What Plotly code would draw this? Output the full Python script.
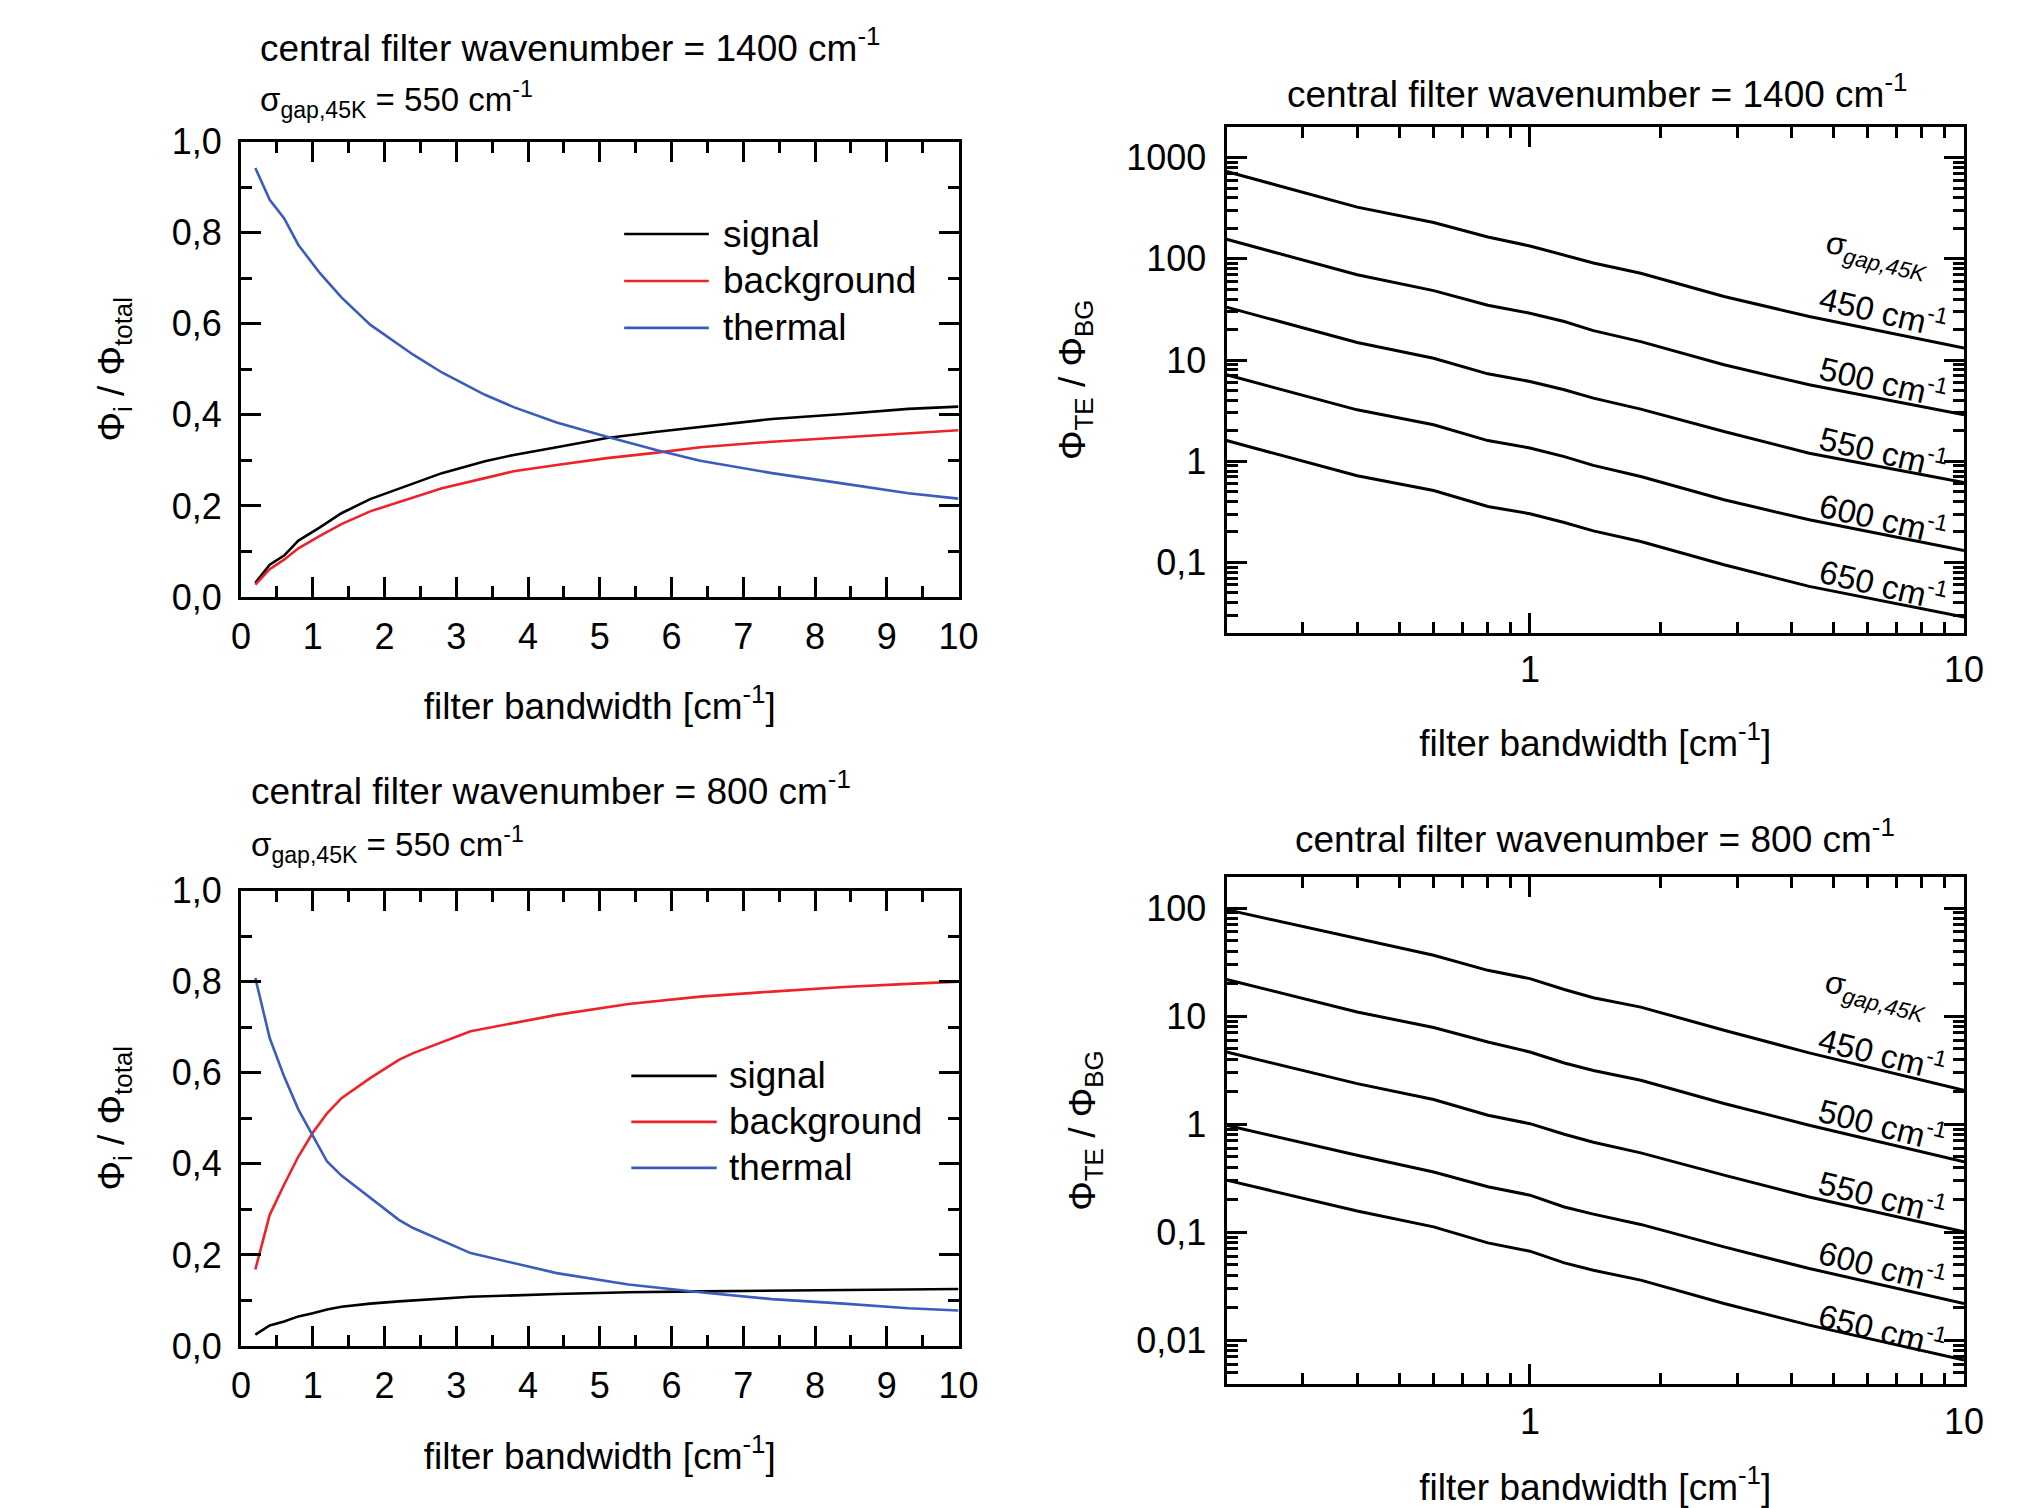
import math
import plotly.graph_objects as go

W, H = 2033, 1508
FONT = "Liberation Sans, Arial, Helvetica, sans-serif"

# ---------------- data ----------------
series_names = ["signal", "background", "thermal"]
series_colors = ["#000000", "#ee2229", "#3a5cbd"]

# top-left: central filter wavenumber 1400 cm-1
bw_1400 = [0.2, 0.4, 0.6, 0.8, 1.1, 1.4, 1.8, 2.4, 2.8, 3.4, 3.8, 4.4, 5.1, 5.8, 6.4, 7.4, 8.4, 9.3, 10]
signal_1400 = [0.031, 0.071, 0.091, 0.124, 0.153, 0.184, 0.215, 0.250, 0.272, 0.298, 0.312, 0.329, 0.349, 0.363, 0.374, 0.391, 0.402, 0.413, 0.418]
background_1400 = [0.027, 0.061, 0.082, 0.107, 0.134, 0.160, 0.188, 0.219, 0.239, 0.261, 0.276, 0.290, 0.305, 0.317, 0.329, 0.341, 0.351, 0.360, 0.366]
thermal_1400 = [0.942, 0.872, 0.832, 0.773, 0.711, 0.658, 0.598, 0.532, 0.493, 0.444, 0.417, 0.383, 0.352, 0.322, 0.299, 0.272, 0.249, 0.228, 0.216]

# bottom-left: central filter wavenumber 800 cm-1
bw_800 = [0.2, 0.4, 0.6, 0.8, 1.0, 1.2, 1.4, 1.8, 2.2, 2.4, 3.2, 4.4, 5.4, 6.4, 7.4, 8.4, 9.3, 10]
signal_800 = [0.025, 0.045, 0.054, 0.065, 0.072, 0.080, 0.086, 0.093, 0.098, 0.100, 0.108, 0.114, 0.118, 0.120, 0.121, 0.123, 0.124, 0.125]
background_800 = [0.168, 0.288, 0.354, 0.416, 0.468, 0.511, 0.544, 0.588, 0.628, 0.643, 0.691, 0.727, 0.751, 0.767, 0.778, 0.788, 0.795, 0.800]
thermal_800 = [0.808, 0.676, 0.592, 0.519, 0.462, 0.405, 0.374, 0.325, 0.277, 0.259, 0.204, 0.160, 0.135, 0.118, 0.103, 0.093, 0.083, 0.078]

# right panels: Phi_TE / Phi_BG versus bandwidth for several gap energies
bw_log = [0.2, 0.4, 0.6, 0.8, 1.0, 1.2, 1.4, 1.8, 2.8, 4.4, 10]
gap_values = [450, 500, 550, 600, 650]

ratio_1400 = {
    450: [728, 324, 228, 164, 134, 109, 91, 72, 42.4, 26.9, 13.1],
    500: [156, 69.5, 48.5, 34.8, 29.0, 24.0, 19.5, 15.2, 8.97, 5.69, 2.88],
    550: [33.3, 14.9, 10.4, 7.3, 6.14, 5.08, 4.2, 3.27, 1.97, 1.20, 0.617],
    600: [7.14, 3.22, 2.29, 1.60, 1.35, 1.11, 0.91, 0.707, 0.416, 0.264, 0.1315],
    650: [1.60, 0.718, 0.514, 0.357, 0.303, 0.248, 0.205, 0.161, 0.0948, 0.058, 0.0289],
}
ratio_800 = {
    450: [96.6, 52.1, 36.5, 26.5, 22.2, 17.6, 14.8, 12.1, 7.4, 4.56, 2.06],
    500: [21.8, 10.9, 7.83, 5.76, 4.65, 3.68, 3.14, 2.55, 1.55, 0.977, 0.447],
    550: [4.65, 2.37, 1.69, 1.21, 1.01, 0.807, 0.68, 0.542, 0.337, 0.212, 0.1007],
    600: [0.977, 0.515, 0.361, 0.263, 0.22, 0.171, 0.147, 0.118, 0.0731, 0.0461, 0.0219],
    650: [0.303, 0.157, 0.112, 0.0796, 0.0667, 0.052, 0.0444, 0.036, 0.0219, 0.0138, 0.00655],
}

# tick labels
lin_x_tickvals = [0, 1, 2, 3, 4, 5, 6, 7, 8, 9, 10]
lin_x_ticktext = ["0", "1", "2", "3", "4", "5", "6", "7", "8", "9", "10"]
lin_y_tickvals = [0.0, 0.2, 0.4, 0.6, 0.8, 1.0]
lin_y_ticktext = ["0,0", "0,2", "0,4", "0,6", "0,8", "1,0"]
log_x_tickvals = [1, 10]
log_x_ticktext = ["1", "10"]
tr_y_tickvals = [0.1, 1, 10, 100, 1000]
tr_y_ticktext = ["0,1", "1", "10", "100", "1000"]
br_y_tickvals = [0.01, 0.1, 1, 10, 100]
br_y_ticktext = ["0,01", "0,1", "1", "10", "100"]

titles_top = ["central filter wavenumber = 1400 cm<sup>-1</sup>",
              "central filter wavenumber = 800 cm<sup>-1</sup>"]
gap_subtitle = "σ<sub>gap,45K</sub> = 550 cm<sup>-1</sup>"
xtitle = "filter bandwidth [cm<sup>-1</sup>]"
ytitle_left = "Φ<sub>i</sub> / Φ<sub>total</sub>"
ytitle_right = "Φ<sub>TE</sub> / Φ<sub>BG</sub>"
NB = "\u00a0"  # trailing padding nudges the rotated titles slightly downward

# ---------------- figure ----------------
fig = go.Figure()

left_sets = [
    ("x", "y", bw_1400, [signal_1400, background_1400, thermal_1400]),
    ("x3", "y3", bw_800, [signal_800, background_800, thermal_800]),
]
for xa, ya, xs, ys in left_sets:
    for name, col, yv in zip(series_names, series_colors, ys):
        fig.add_trace(go.Scatter(x=xs, y=yv, mode="lines", name=name,
                                 line=dict(color=col, width=2.6),
                                 xaxis=xa, yaxis=ya, showlegend=False))

for xa, ya, data in [("x2", "y2", ratio_1400), ("x4", "y4", ratio_800)]:
    for g in gap_values:
        fig.add_trace(go.Scatter(x=bw_log, y=data[g], mode="lines",
                                 name=f"{g} cm-1",
                                 line=dict(color="black", width=3),
                                 xaxis=xa, yaxis=ya, showlegend=False))


def px_x(p):
    return p / W


def px_y(p):
    return 1 - p / H


TICKFONT = dict(family=FONT, size=36, color="black")
TITLEFONT = dict(family=FONT, size=37, color="black")


def base_axis(**kw):
    d = dict(showline=True, linecolor="black", linewidth=3, mirror="allticks",
             ticks="inside", ticklen=20, tickwidth=3, tickcolor="black",
             showgrid=False, zeroline=False, tickfont=TICKFONT, automargin=False)
    d.update(kw)
    return d


def minor(vals):
    return dict(tickvals=vals, ticks="inside", ticklen=11, tickwidth=3,
                tickcolor="black", showgrid=False)


def log_minors(lo_exp, hi_exp, lo, hi):
    out = []
    for e in range(lo_exp, hi_exp + 1):
        for m in range(2, 10):
            v = m * 10 ** e
            if lo < v < hi:
                out.append(v)
    return out


lin_x_minor = [i + 0.5 for i in range(10)]
lin_y_minor = [0.1, 0.3, 0.5, 0.7, 0.9]

dom_left_x = [px_x(241), px_x(958.5)]
dom_right_x = [px_x(1226.5), px_x(1964)]
dom_tl_y = [px_y(597), px_y(141.6)]
dom_tr_y = [px_y(633), px_y(126.6)]
dom_bl_y = [px_y(1346), px_y(890.5)]
dom_br_y = [px_y(1384), px_y(877)]

tr_range = [-1.697, 3.306]
br_range = [-2.405, 2.287]

layout_axes = dict(
    xaxis=base_axis(domain=dom_left_x, anchor="y", range=[0, 10], tickmode="array",
                    tickvals=lin_x_tickvals, ticktext=lin_x_ticktext, minor=minor(lin_x_minor),
                    ticklabelstandoff=6,
                    title=dict(text=xtitle, font=TITLEFONT, standoff=37)),
    yaxis=base_axis(domain=dom_tl_y, anchor="x", range=[0, 1], tickmode="array",
                    tickvals=lin_y_tickvals, ticktext=lin_y_ticktext, minor=minor(lin_y_minor),
                    ticklabelstandoff=9,
                    title=dict(text=ytitle_left + NB * 4, font=TITLEFONT, standoff=36)),
    xaxis3=base_axis(domain=dom_left_x, anchor="y3", range=[0, 10], tickmode="array",
                     tickvals=lin_x_tickvals, ticktext=lin_x_ticktext, minor=minor(lin_x_minor),
                     ticklabelstandoff=6,
                     title=dict(text=xtitle, font=TITLEFONT, standoff=38)),
    yaxis3=base_axis(domain=dom_bl_y, anchor="x3", range=[0, 1], tickmode="array",
                     tickvals=lin_y_tickvals, ticktext=lin_y_ticktext, minor=minor(lin_y_minor),
                     ticklabelstandoff=9,
                     title=dict(text=ytitle_left + NB * 3, font=TITLEFONT, standoff=36)),
    xaxis2=base_axis(domain=dom_right_x, anchor="y2", type="log",
                     range=[math.log10(0.2), 1], tickmode="array",
                     tickvals=log_x_tickvals, ticktext=log_x_ticktext,
                     minor=minor(log_minors(-1, 0, 0.2, 10)),
                     ticklabelstandoff=3,
                     title=dict(text=xtitle, font=TITLEFONT, standoff=41)),
    yaxis2=base_axis(domain=dom_tr_y, anchor="x2", type="log", range=tr_range,
                     tickmode="array", tickvals=tr_y_tickvals, ticktext=tr_y_ticktext,
                     minor=minor(log_minors(-2, 3, 10 ** tr_range[0], 10 ** tr_range[1])),
                     ticklabelstandoff=10,
                     title=dict(text=ytitle_right + NB * 4, font=TITLEFONT, standoff=30)),
    xaxis4=base_axis(domain=dom_right_x, anchor="y4", type="log",
                     range=[math.log10(0.2), 1], tickmode="array",
                     tickvals=log_x_tickvals, ticktext=log_x_ticktext,
                     minor=minor(log_minors(-1, 0, 0.2, 10)),
                     ticklabelstandoff=4,
                     title=dict(text=xtitle, font=TITLEFONT, standoff=42)),
    yaxis4=base_axis(domain=dom_br_y, anchor="x4", type="log", range=br_range,
                     tickmode="array", tickvals=br_y_tickvals, ticktext=br_y_ticktext,
                     minor=minor(log_minors(-3, 2, 10 ** br_range[0], 10 ** br_range[1])),
                     ticklabelstandoff=10,
                     title=dict(text=ytitle_right + NB * 2, font=TITLEFONT, standoff=30)),
)

annotations = []
shapes = []

# panel titles
annotations.append(dict(text=titles_top[0], x=px_x(258), y=px_y(45), xref="paper", yref="paper",
                        xanchor="left", yanchor="middle", showarrow=False, font=TITLEFONT))
annotations.append(dict(text=gap_subtitle, x=px_x(258), y=px_y(99), xref="paper", yref="paper",
                        xanchor="left", yanchor="middle", showarrow=False,
                        font=dict(family=FONT, size=33, color="black")))
annotations.append(dict(text=titles_top[0], x=px_x(1597), y=px_y(92), xref="paper", yref="paper",
                        xanchor="center", yanchor="middle", showarrow=False, font=TITLEFONT))
annotations.append(dict(text=titles_top[1], x=px_x(249), y=px_y(789), xref="paper", yref="paper",
                        xanchor="left", yanchor="middle", showarrow=False, font=TITLEFONT))
annotations.append(dict(text=gap_subtitle, x=px_x(249), y=px_y(844), xref="paper", yref="paper",
                        xanchor="left", yanchor="middle", showarrow=False,
                        font=dict(family=FONT, size=33, color="black")))
annotations.append(dict(text=titles_top[1], x=px_x(1595), y=px_y(836), xref="paper", yref="paper",
                        xanchor="center", yanchor="middle", showarrow=False, font=TITLEFONT))

# legend keys for left panels (drawn inside the plot area)
legend_specs = [
    ("x", "y", 5.34, 6.52, 6.69, [0.797, 0.694, 0.591]),
    ("x3", "y3", 5.44, 6.63, 6.78, [0.593, 0.492, 0.391]),
]
for xa, ya, x0, x1, xt, rows in legend_specs:
    for name, col, yy in zip(series_names, series_colors, rows):
        shapes.append(dict(type="line", xref=xa, yref=ya, x0=x0, x1=x1, y0=yy, y1=yy,
                           line=dict(color=col, width=2.6)))
        annotations.append(dict(text=name, x=xt, y=yy, xref=xa, yref=ya, xanchor="left",
                                yanchor="middle", showarrow=False, font=TITLEFONT))

# curve labels in right panels
label_font = dict(family=FONT, size=33, color="black")
right_labels = [
    (1877, 255, 13, [(1883, 310), (1883, 380), (1883, 450), (1883, 517), (1883, 583)]),
    (1876, 995, 14, [(1882, 1052), (1882, 1123), (1882, 1195), (1882, 1265), (1882, 1328)]),
]
for sx, sy, ang, pos in right_labels:
    annotations.append(dict(text="σ<sub><i>gap,45K</i></sub>", x=px_x(sx), y=px_y(sy),
                            xref="paper", yref="paper", xanchor="center", yanchor="middle",
                            textangle=ang, showarrow=False,
                            font=dict(family=FONT, size=32, color="black")))
    for g, (lx, ly) in zip(gap_values, pos):
        annotations.append(dict(text=f"{g} cm<sup>-1</sup>", x=px_x(lx), y=px_y(ly),
                                xref="paper", yref="paper", xanchor="center", yanchor="middle",
                                textangle=ang, showarrow=False, font=label_font))

fig.update_layout(
    template="none",
    width=W, height=H, autosize=False,
    margin=dict(l=0, r=0, t=0, b=0, pad=0, autoexpand=False),
    paper_bgcolor="white", plot_bgcolor="white",
    font=dict(family=FONT, color="black", size=36),
    separators=",.",
    showlegend=False,
    annotations=annotations,
    shapes=shapes,
    **layout_axes,
)

fig.write_html("out.html", config={"displayModeBar": False},
               post_script="document.body.style.margin='0';document.body.style.overflow='hidden';")
